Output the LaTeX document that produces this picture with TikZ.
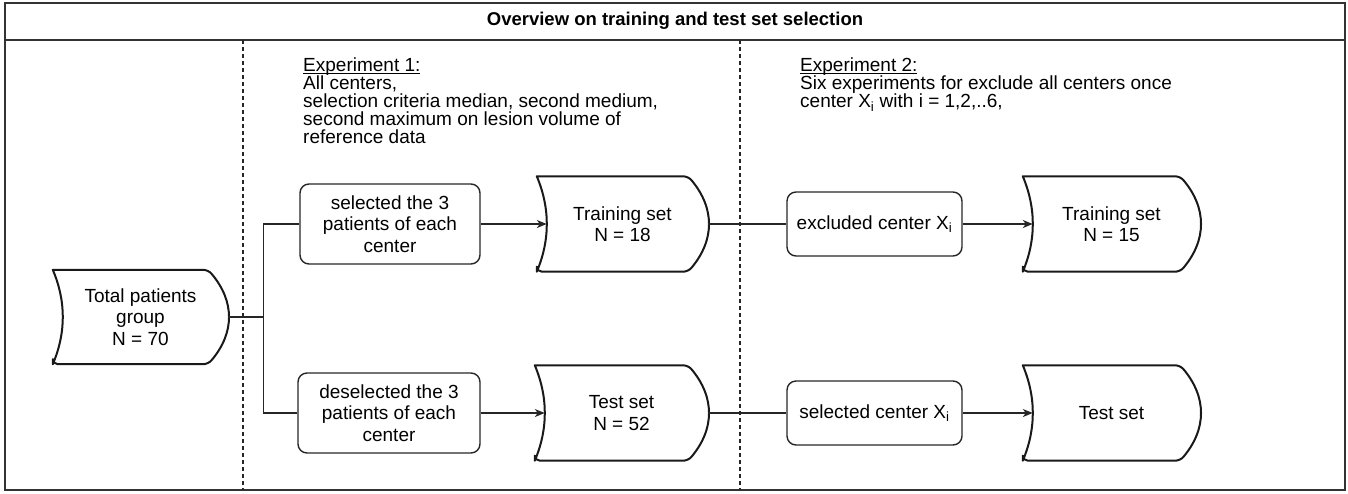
\documentclass[tikz,border=0pt]{standalone}
\usepackage{fontspec}
\setmainfont{Liberation Sans}
\usetikzlibrary{arrows.meta,calc}

% underline sitting close to the baseline
\newcommand\headline[1]{\setbox0\hbox{#1}\rlap{\rule[-2.2pt]{\wd0}{0.9pt}}\box0}

\tikzset{
  frameline/.style={draw=black!80, line width=1.3pt},
  divider/.style={draw=black!85, line width=1.2pt, dash pattern=on 4pt off 3pt},
  procbox/.style={draw=black!85, line width=1.4pt, rounded corners=9pt,
    align=center, inner sep=0pt,
    font=\fontsize{19}{21.5}\selectfont},
  store/.style={inner sep=0pt, align=center,
    font=\fontsize{19}{21.5}\selectfont},
  storeline/.style={draw=black!90, line width=2pt, line join=round},
  link/.style={draw=black!85, line width=1.3pt},
  arrowlink/.style={link, -{Stealth[length=10pt,width=8pt,inset=3pt]}},
  exptext/.style={anchor=north west, align=left, inner sep=0pt,
    font=\fontsize{19}{17.8}\selectfont},
}

% storage outline around a node: concave left side, convex right side
\newcommand\storageoutline[1]{%
  \path[storeline] let \p1=(#1.north west), \p2=(#1.south east) in
    (\x1,\y2)
    .. controls ({\x1+13.33pt},{\y2-(\y2-\y1)/3}) and ({\x1+13.33pt},{\y1+(\y2-\y1)/3}) .. (\x1,\y1)
    [rounded corners=5pt] -- ({\x2-20pt},\y1)
    .. controls ({\x2+6.67pt},{\y1+(\y2-\y1)/3}) and ({\x2+6.67pt},{\y2-(\y2-\y1)/3}) .. ({\x2-20pt},\y2)
    -- (\x1,\y2) [sharp corners] -- cycle;%
}

\begin{document}
\begin{tikzpicture}[x=1pt,y=-1pt]
\useasboundingbox (0,0) rectangle (1348,493);

% outer frame and title bar
\draw[frameline] (5,3) rectangle (1345,490);
\draw[frameline] (5,40) -- (1345,40);
\node (title) at (675,21) {\fontsize{18.5}{20}\selectfont\bfseries Overview on training and test set selection};

% column dividers
\draw[divider] (243,40) -- (243,490);
\draw[divider] (740,40) -- (740,490);

% experiment descriptions
\node[exptext] (exp1) at (303,58) {\headline{Experiment 1:}\\All centers,\\selection criteria median, second medium,\\second maximum on lesion volume of\\reference data};
\node[exptext] (exp2) at (800,58) {\headline{Experiment 2:}\\Six experiments for exclude all centers once\\center X\textsubscript{i} with i = 1,2,..6,};

% data stores
\node[store, minimum width=175pt, minimum height=94pt] (total) at (140.5,317) {Total patients\\group\\N = 70};
\node[store, minimum width=171pt, minimum height=95pt] (train1) at (622.5,224) {Training set\\N = 18};
\node[store, minimum width=173pt, minimum height=95pt] (test1) at (621.5,413) {Test set\\N = 52};
\node[store, minimum width=177pt, minimum height=95pt] (train2) at (1111.5,224) {Training set\\N = 15};
\node[store, minimum width=177pt, minimum height=95pt] (test2) at (1111.5,413) {Test set};
\storageoutline{total}
\storageoutline{train1}
\storageoutline{test1}
\storageoutline{train2}
\storageoutline{test2}

% process steps
\node[procbox, minimum width=180pt, minimum height=80pt] (sel) at (390,224) {selected the 3\\patients of each\\center};
\node[procbox, minimum width=182pt, minimum height=80pt] (desel) at (389,413) {deselected the 3\\patients of each\\center};
\node[procbox, minimum width=175pt, minimum height=64pt] (excl) at (874.5,224) {excluded center X\textsubscript{i}};
\node[procbox, minimum width=175pt, minimum height=64pt] (selc) at (874.5,413) {selected center X\textsubscript{i}};

% connectors
\coordinate (split) at ($(total.east)+(35,0)$);
\draw[link] (total.east) -- (split);
\draw[link] (split) |- (sel.west);
\draw[link] (split) |- (desel.west);
\draw[arrowlink] (sel.east) -- ([xshift=10pt]train1.west);
\draw[arrowlink] (desel.east) -- ([xshift=10pt]test1.west);
\draw[link] (train1.east) -- (excl.west);
\draw[link] (test1.east) -- (selc.west);
\draw[arrowlink] (excl.east) -- ([xshift=10pt]train2.west);
\draw[arrowlink] (selc.east) -- ([xshift=10pt]test2.west);
\end{tikzpicture}
\end{document}
